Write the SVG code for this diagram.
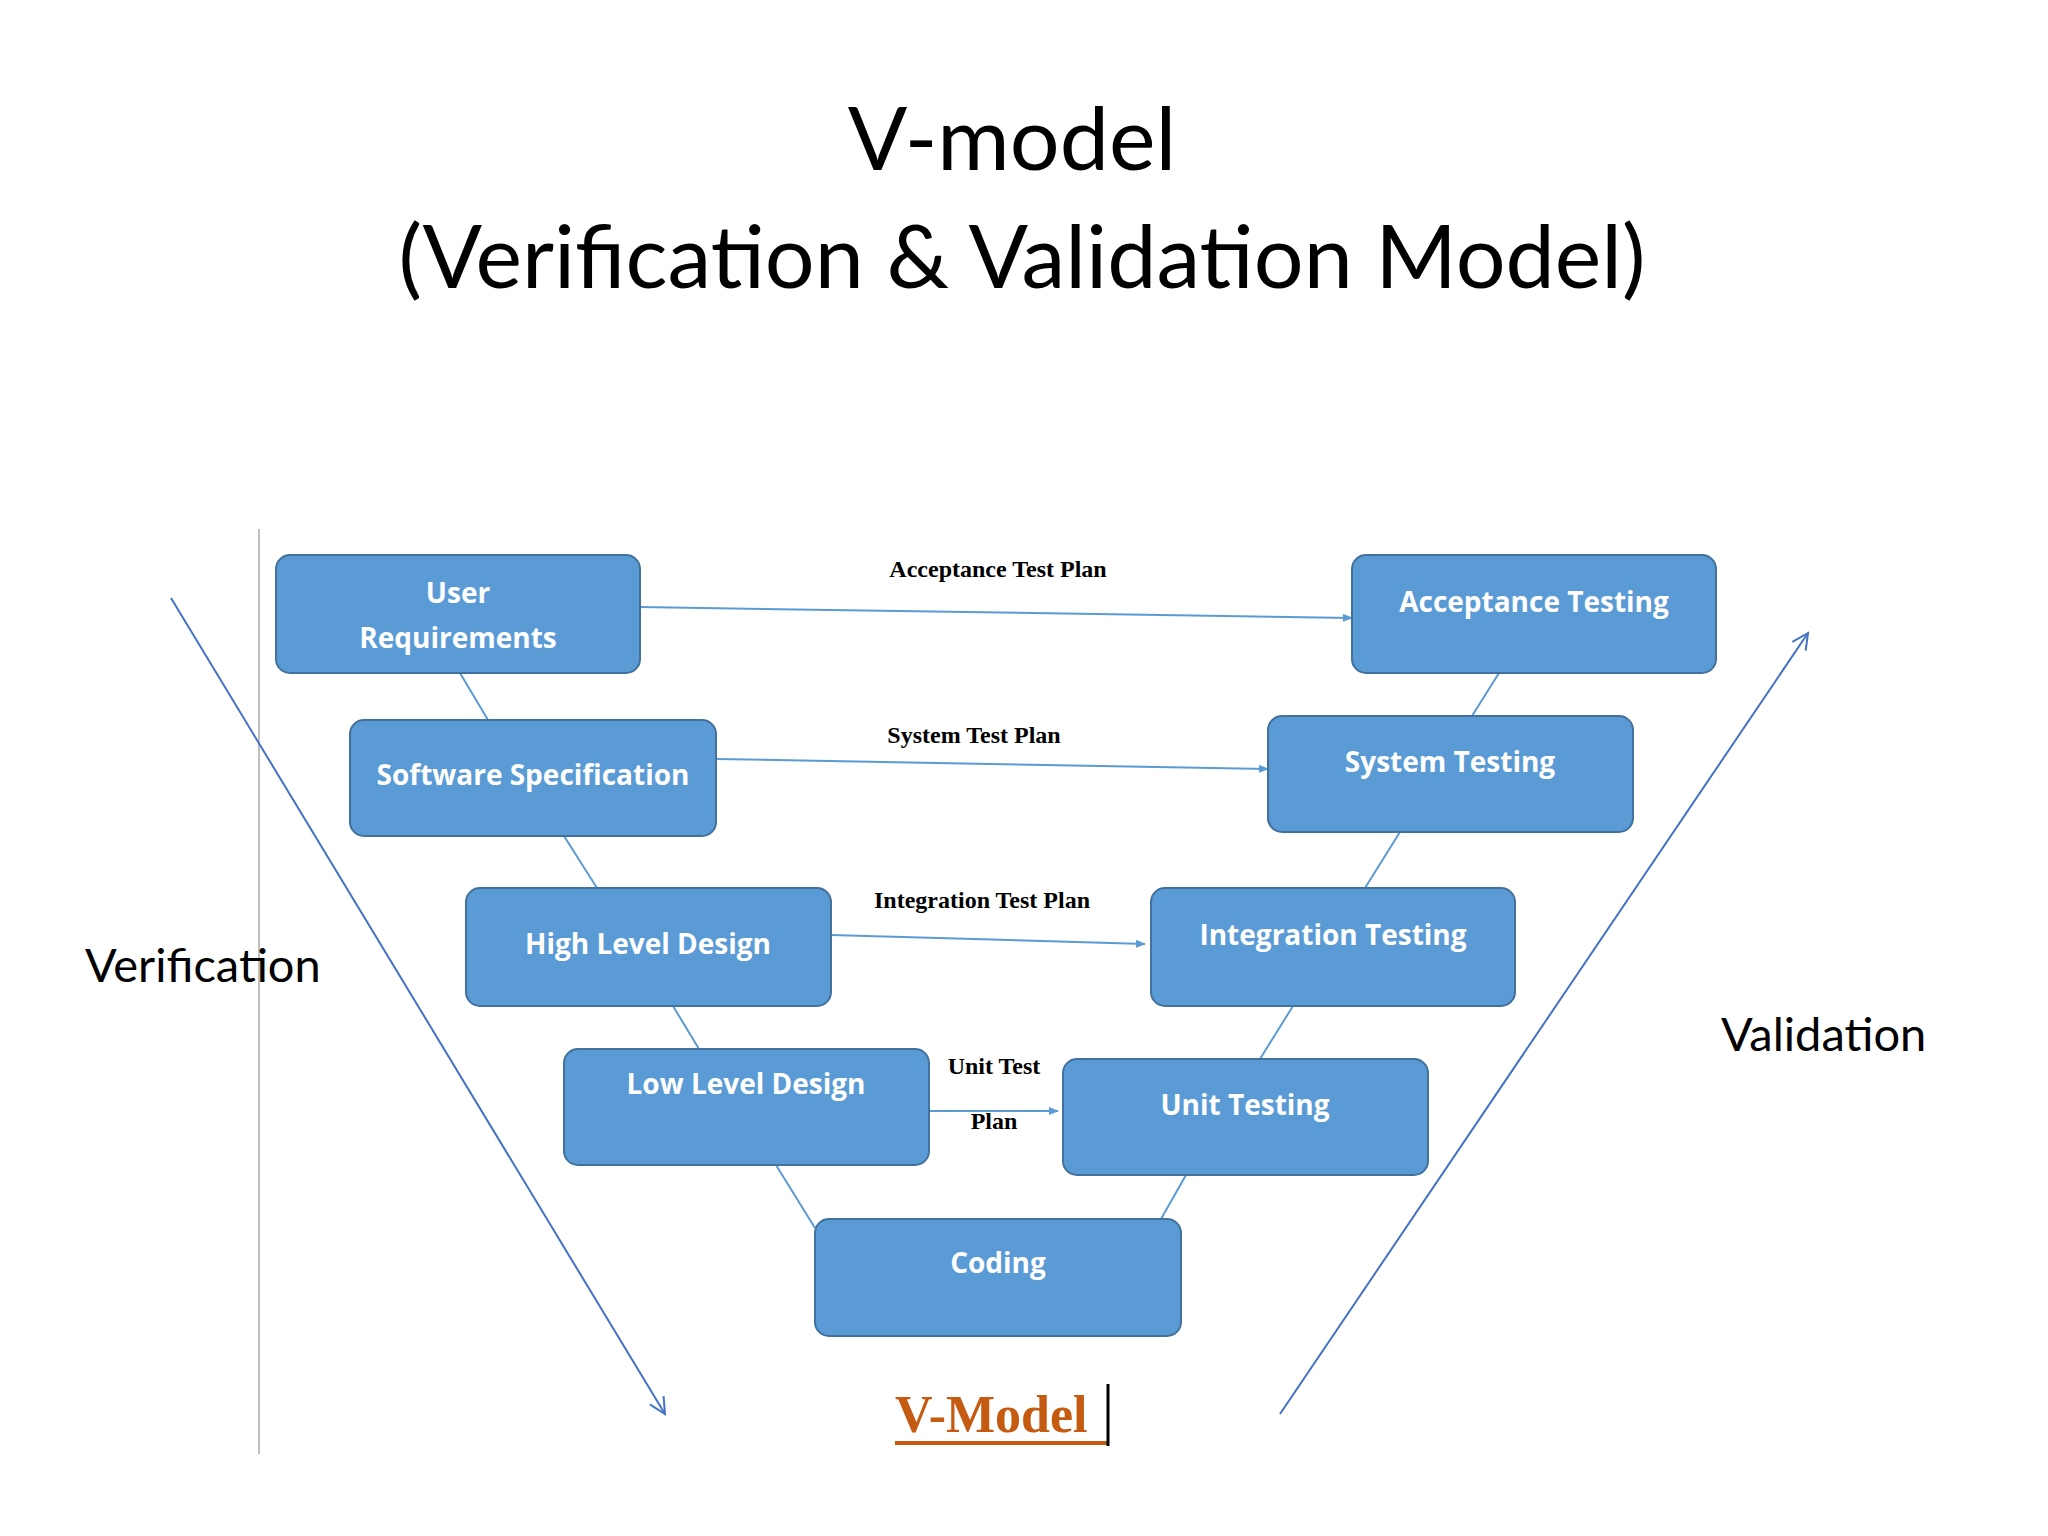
<svg xmlns="http://www.w3.org/2000/svg" width="2048" height="1536" viewBox="0 0 2048 1536">
<style>
.b rect{fill:#5b9bd5;stroke:#41719c;stroke-width:2}
.b text{fill:#fff;font-family:"Open Sans","DejaVu Sans",sans-serif;font-weight:bold;font-size:28px;text-anchor:middle}
.c{stroke:#5b9bd5;stroke-width:2;fill:none}
.l{font-family:"Liberation Serif",serif;font-weight:bold;font-size:24px;text-anchor:middle;fill:#000}
.t{font-family:Lato,"Open Sans",sans-serif;fill:#000}
</style>
<defs><marker id="a" markerWidth="10" markerHeight="10" refX="9" refY="5" orient="auto" markerUnits="userSpaceOnUse"><path d="M0,1 L10,5 L0,9z" fill="#5b9bd5"/></marker>
<marker id="o" markerWidth="20" markerHeight="20" refX="18" refY="10" orient="auto" markerUnits="userSpaceOnUse"><path d="M2,2 L18,10 L2,18" fill="none" stroke="#4472c4" stroke-width="2"/></marker></defs>
<rect width="2048" height="1536" fill="#fff"/>
<text class="t" x="1012" y="170" font-size="88" text-anchor="middle">V-model</text>
<text class="t" x="1022" y="288" font-size="88" text-anchor="middle">(Verification &amp; Validation Model)</text>
<line x1="259" y1="529" x2="259" y2="1454" stroke="#bfbfbf" stroke-width="2"/>
<text class="t" x="85" y="982" font-size="47">Verification</text>
<text class="t" x="1721" y="1051" font-size="47">Validation</text>
<g id="connectors">
<path class="c" d="M460,673L488,720M564,836L597,888M673,1006L699,1049M776,1165L815,1228M1161,1219L1186,1175M1260,1059L1293,1006M1365,888L1400,832M1472,716L1499,673"/>
<line class="c" x1="640" y1="607" x2="1352" y2="618" marker-end="url(#a)"/>
<line class="c" x1="716" y1="759" x2="1268" y2="769" marker-end="url(#a)"/>
<line class="c" x1="831" y1="935" x2="1145" y2="944" marker-end="url(#a)"/>
<line class="c" x1="929" y1="1111" x2="1058" y2="1111" marker-end="url(#a)"/>
<line x1="171" y1="598" x2="665" y2="1414" stroke="#4472c4" stroke-width="2" marker-end="url(#o)"/>
<line x1="1280" y1="1414" x2="1808" y2="633" stroke="#4472c4" stroke-width="2" marker-end="url(#o)"/>
</g>
<text class="l" x="998" y="577">Acceptance Test Plan</text>
<text class="l" x="974" y="743">System Test Plan</text>
<text class="l" x="982" y="908">Integration Test Plan</text>
<text class="l" x="994" y="1074">Unit Test</text>
<text class="l" x="994" y="1129">Plan</text>
<g id="ur" class="b"><rect x="276" y="555" width="364" height="118" rx="14"/><text x="458" y="603">User</text><text x="458" y="648">Requirements</text></g>
<g id="ss" class="b"><rect x="350" y="720" width="366" height="116" rx="14"/><text x="533" y="785">Software Specification</text></g>
<g id="hl" class="b"><rect x="466" y="888" width="365" height="118" rx="14"/><text x="648" y="954">High Level Design</text></g>
<g id="ll" class="b"><rect x="564" y="1049" width="365" height="116" rx="14"/><text x="746" y="1094">Low Level Design</text></g>
<g id="cd" class="b"><rect x="815" y="1219" width="366" height="117" rx="14"/><text x="998" y="1273">Coding</text></g>
<g id="ut" class="b"><rect x="1063" y="1059" width="365" height="116" rx="14"/><text x="1245" y="1115">Unit Testing</text></g>
<g id="it" class="b"><rect x="1151" y="888" width="364" height="118" rx="14"/><text x="1333" y="945">Integration Testing</text></g>
<g id="st" class="b"><rect x="1268" y="716" width="365" height="116" rx="14"/><text x="1450" y="772">System Testing</text></g>
<g id="at" class="b"><rect x="1352" y="555" width="364" height="118" rx="14"/><text x="1534" y="612">Acceptance Testing</text></g>
<text x="895" y="1432" font-family="Liberation Serif,serif" font-weight="bold" font-size="52" fill="#c55a11">V-Model</text>
<line x1="895" y1="1443" x2="1107" y2="1443" stroke="#c55a11" stroke-width="4"/>
<line x1="1108" y1="1384" x2="1108" y2="1446" stroke="#000" stroke-width="3"/>
</svg>
